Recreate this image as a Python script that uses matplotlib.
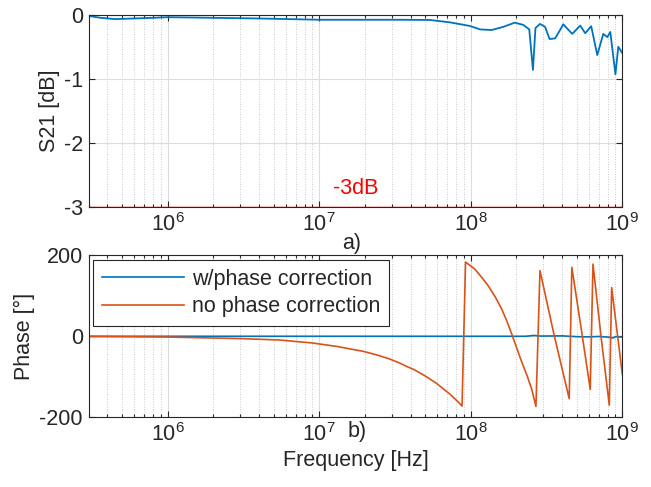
import numpy as np
import matplotlib
matplotlib.use("Agg")
import matplotlib.pyplot as plt
from matplotlib.ticker import LogLocator, NullFormatter

plt.rcParams['font.family'] = ['Liberation Sans', 'DejaVu Sans']
plt.rcParams['axes.unicode_minus'] = False
plt.rcParams['mathtext.fontset'] = 'custom'
plt.rcParams['mathtext.rm'] = 'Liberation Sans'

# S21 magnitude
s21_freq = [3e5, 3.6e5, 4.5e5, 6e5, 8e5, 1e6, 2e6, 4e6, 1e7, 2e7, 3.4e7, 5.35e7,
            7.26e7, 9.84e7, 1.15e8, 1.37e8, 1.64e8, 1.95e8, 2.22e8, 2.43e8,
            2.57e8, 2.67e8, 2.86e8, 3.09e8, 3.31e8, 3.6e8, 3.88e8, 4.07e8,
            4.67e8, 5.27e8, 5.69e8, 6.23e8, 6.83e8, 7.48e8, 7.96e8, 8.33e8,
            9.0e8, 9.4e8, 1e9]
s21_db = [-0.02, -0.05, -0.07, -0.06, -0.05, -0.04, -0.05, -0.06, -0.08, -0.08,
          -0.08, -0.083, -0.12, -0.176, -0.23, -0.24, -0.19, -0.125, -0.16, -0.23,
          -0.86, -0.21, -0.145, -0.19, -0.38, -0.37, -0.24, -0.15,
          -0.30, -0.17, -0.29, -0.18, -0.63, -0.30, -0.35, -0.27,
          -0.93, -0.50, -0.60]

# phase with correction
ph_corr_freq = [3e5, 1e8, 2.3e8, 2.6e8, 2.9e8, 4e8, 5e8, 6e8, 7e8, 8e8, 8.7e8, 9e8, 1e9]
ph_corr = [0, 0, 0, 2, 0.5, 1, -1, -1.5, -0.5, -2, -4, -1, -2]

# phase without correction
ph_raw_freq = [3e5, 1e6, 3e6, 5.4e6, 9e6, 1.3e7, 1.94e7, 2.4e7, 2.91e7, 3.39e7,
               3.8e7, 4.15e7, 4.6e7, 5e7, 5.45e7, 5.93e7, 6.6e7, 7.3e7, 7.83e7,
               8.2e7, 8.75e7, 9.23e7, 1.06e8, 1.17e8, 1.3e8, 1.45e8, 1.6e8,
               1.73e8, 1.86e8, 2.17e8, 2.35e8, 2.52e8, 2.69e8, 2.86e8, 3.56e8,
               4.46e8, 4.64e8, 5.33e8, 6.14e8, 6.4e8, 7.23e8, 8.2e8, 8.5e8, 1e9]
ph_raw = [-0.6, -1.9, -5.7, -9.1, -16.5, -25, -37, -46, -56, -66,
          -75, -81, -90, -98, -107, -116, -130, -143, -154,
          -161, -172, 183, 166, 147, 125, 97, 67,
          37, 6, -64, -97, -130, -173, 162, 0,
          -154, 170, 23, -131, 178, 0, -170, 120, -94]

blue = '#0072BD'
orange = '#D95319'
dark = '#262626'
fs = 15.5

fig = plt.figure(figsize=(6.51, 4.87), dpi=100)
ax1 = fig.add_axes([0.136, 0.574, 0.820, 0.396])
ax2 = fig.add_axes([0.136, 0.143, 0.820, 0.333])

for ax in (ax1, ax2):
    ax.set_xscale('log')
    ax.set_xlim(3e5, 1e9)
    ax.xaxis.set_major_locator(LogLocator(base=10, numticks=10))
    ax.xaxis.set_minor_locator(LogLocator(base=10, subs=np.arange(2, 10), numticks=20))
    ax.xaxis.set_minor_formatter(NullFormatter())
    ax.grid(True, which='major', color='#dcdcdc', lw=0.8, ls='-')
    ax.grid(True, which='minor', axis='x', color='#b8b8b8', lw=0.6, ls=(0, (1, 2)))
    ax.set_axisbelow(True)
    ax.tick_params(which='both', direction='in', top=True, right=True,
                   colors=dark, labelsize=fs, width=0.8, pad=4)
    ax.tick_params(which='major', length=4)
    ax.tick_params(which='minor', length=2.5)
    for sp in ax.spines.values():
        sp.set_color(dark)
        sp.set_linewidth(0.8)

ax1.plot(s21_freq, s21_db, color=blue, lw=1.3)
ax1.axhline(-3, color='r', lw=1.0)
ax1.text(1.73e7, -2.7, '-3dB', color='r', fontsize=fs, ha='center', va='center')
ax1.set_ylim(-3, 0)
ax1.set_yticks([-3, -2, -1, 0])
ax1.set_ylabel('S21 [dB]', fontsize=fs, color=dark, labelpad=3)

ax2.plot(ph_corr_freq, ph_corr, color=blue, lw=1.2, label='w/phase correction')
ax2.plot(ph_raw_freq, ph_raw, color=orange, lw=1.2, label='no phase correction')
ax2.set_ylim(-200, 200)
ax2.set_yticks([-200, 0, 200])
ax2.set_ylabel('Phase [°]', fontsize=fs, color=dark, labelpad=3)
ax2.set_xlabel('Frequency [Hz]', fontsize=fs, color=dark, labelpad=3)

leg = ax2.legend(loc='upper left', bbox_to_anchor=(0.009, 0.97), borderaxespad=0,
                 fontsize=fs, handlelength=3.8, handletextpad=0.4,
                 labelspacing=0.3, borderpad=0.4, fancybox=False, framealpha=1)
leg.get_frame().set_edgecolor(dark)
leg.get_frame().set_linewidth(0.8)
for t in leg.get_texts():
    t.set_color(dark)

fig.text(352 / 651, 1 - 243 / 487, 'a)', fontsize=fs, color=dark, ha='center', va='center')
fig.text(357 / 651, 1 - 432 / 487, 'b)', fontsize=fs, color=dark, ha='center', va='center')

fig.savefig('out.png', dpi=100)
